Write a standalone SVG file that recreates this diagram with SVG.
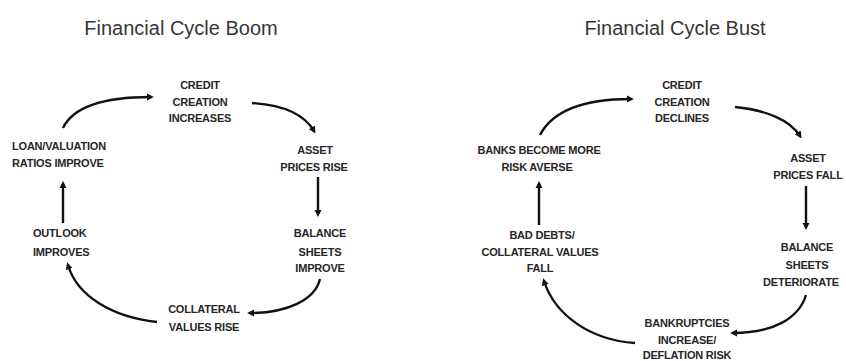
<svg xmlns="http://www.w3.org/2000/svg" width="846" height="361" viewBox="0 0 846 361">
<defs>
<style>
.title{font-family:"Liberation Sans",Arial,sans-serif;font-size:20px;fill:#363636;text-anchor:middle}
.lbl{font-family:"Liberation Sans",Arial,sans-serif;font-size:11px;font-weight:bold;fill:#262626;text-anchor:middle;letter-spacing:-0.2px}
.lft{text-anchor:start}
.arr{fill:none;stroke:#111;stroke-width:2.4;marker-end:url(#ah)}
</style>
<marker id="ah" viewBox="0 0 10 10" refX="6" refY="5" markerWidth="3" markerHeight="3" orient="auto" markerUnits="strokeWidth">
<path d="M0,0 L10,5 L0,10 z" fill="#111"/>
</marker>
</defs>
<rect width="846" height="361" fill="#fff"/>
<text class="title" x="181" y="35">Financial Cycle Boom</text>
<text class="title" x="675" y="35">Financial Cycle Bust</text>

<g id="boom-credit"><text class="lbl" x="200" y="89">CREDIT</text><text class="lbl" x="200" y="106">CREATION</text><text class="lbl" x="200" y="122">INCREASES</text></g>
<g id="boom-asset"><text class="lbl" x="315" y="154">ASSET</text><text class="lbl" x="314" y="171">PRICES RISE</text></g>
<g id="boom-balance"><text class="lbl" x="320" y="237">BALANCE</text><text class="lbl" x="320" y="256">SHEETS</text><text class="lbl" x="320" y="272">IMPROVE</text></g>
<g id="boom-collateral"><text class="lbl" x="204" y="313">COLLATERAL</text><text class="lbl" x="204" y="331">VALUES RISE</text></g>
<g id="boom-outlook"><text class="lbl lft" x="33" y="237">OUTLOOK</text><text class="lbl lft" x="33" y="256">IMPROVES</text></g>
<g id="boom-loan"><text class="lbl lft" x="12" y="150">LOAN/VALUATION</text><text class="lbl lft" x="12" y="167">RATIOS IMPROVE</text></g>

<g id="bust-credit"><text class="lbl" x="682" y="89">CREDIT</text><text class="lbl" x="682" y="106">CREATION</text><text class="lbl" x="682" y="122">DECLINES</text></g>
<g id="bust-asset"><text class="lbl" x="808" y="162">ASSET</text><text class="lbl" x="808" y="179">PRICES FALL</text></g>
<g id="bust-balance"><text class="lbl" x="807" y="251">BALANCE</text><text class="lbl" x="807" y="269">SHEETS</text><text class="lbl" x="801" y="286">DETERIORATE</text></g>
<g id="bust-bankruptcies"><text class="lbl" x="687" y="327">BANKRUPTCIES</text><text class="lbl" x="687" y="344">INCREASE/</text><text class="lbl" x="687" y="359">DEFLATION RISK</text></g>
<g id="bust-baddebts"><text class="lbl" x="542" y="239">BAD DEBTS/</text><text class="lbl" x="540" y="256">COLLATERAL VALUES</text><text class="lbl" x="540" y="272">FALL</text></g>
<g id="bust-banks"><text class="lbl" x="539" y="154">BANKS BECOME MORE</text><text class="lbl" x="537" y="171">RISK AVERSE</text></g>

<g id="connectors">
<path class="arr" d="M63,128 C74,105 108,97 151,97"/>
<path class="arr" d="M252,103 C284,105 304,114 314,131"/>
<path class="arr" d="M318,177 L318,214"/>
<path class="arr" d="M320,279 C315,300 287,313 250,313"/>
<path class="arr" d="M157,322 C112,317 77,296 68,265"/>
<path class="arr" d="M63,223 L63,184"/>

<path class="arr" d="M540,135 C554,108 590,99 631,99"/>
<path class="arr" d="M735,107 C766,110 790,120 800,136"/>
<path class="arr" d="M806,186 L806,227"/>
<path class="arr" d="M806,295 C799,318 774,333 733,333"/>
<path class="arr" d="M635,343 C590,340 555,315 544,281"/>
<path class="arr" d="M539,225 L539,184"/>
</g>
</svg>
